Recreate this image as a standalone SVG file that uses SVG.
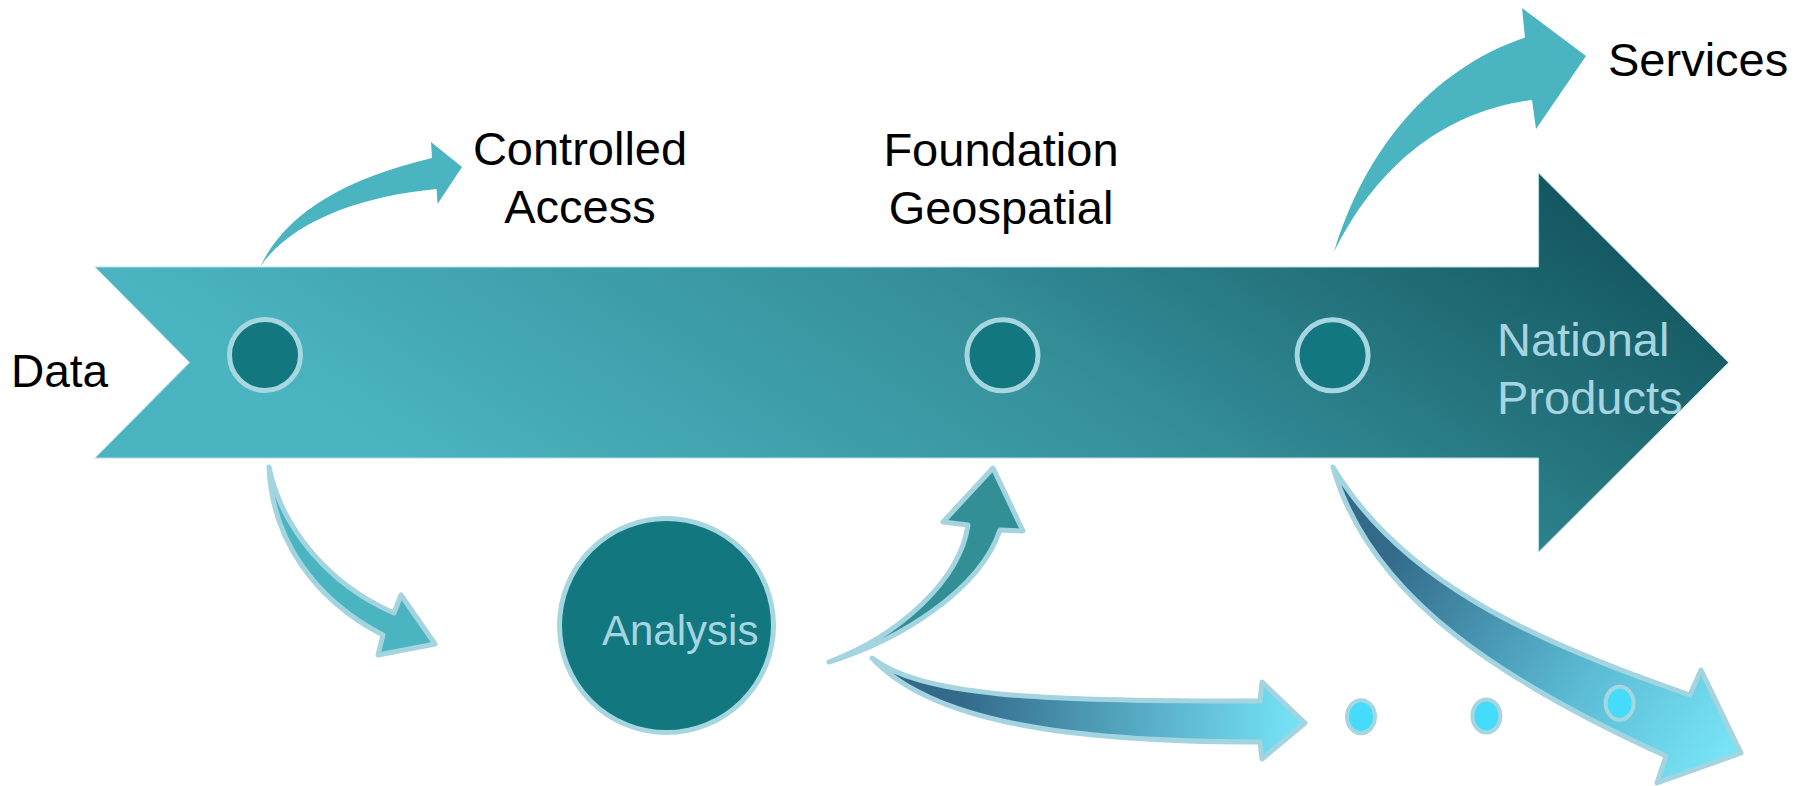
<svg xmlns="http://www.w3.org/2000/svg" width="1810" height="786" viewBox="0 0 1810 786">
  <style>
    .lbl { font-family: "Liberation Sans", Arial, sans-serif; font-size: 47px; fill: #000; }
    .lt { fill: #a5d5e0; }
    .dot { fill: #13777f; stroke: #a6d6e0; stroke-width: 5; }
    .cdot { fill: #45dcfc; stroke: #a6d6e0; stroke-width: 4; }
    .sarrow { stroke: #a3d4df; stroke-width: 5; stroke-linejoin: round; }
  </style>
  <defs>
    <linearGradient id="gMain" gradientUnits="userSpaceOnUse" x1="400" y1="458" x2="852" y2="-256">
      <stop offset="0" stop-color="#4bb4c1"/>
      <stop offset="0.5" stop-color="#35909a"/>
      <stop offset="1" stop-color="#145760"/>
    </linearGradient>
    <linearGradient id="gBottom" gradientUnits="userSpaceOnUse" x1="960" y1="700" x2="1300" y2="720">
      <stop offset="0" stop-color="#336a8a"/>
      <stop offset="1" stop-color="#76e4f6"/>
    </linearGradient>
    <linearGradient id="gBig" gradientUnits="userSpaceOnUse" x1="1400" y1="540" x2="1720" y2="760">
      <stop offset="0" stop-color="#336a8a"/>
      <stop offset="0.6" stop-color="#5bbcd4"/>
      <stop offset="1" stop-color="#78e3f5"/>
    </linearGradient>
  </defs>

  <g id="main-arrow">
    <path d="M95,267 L1538.6,267 L1538.6,173 L1728.6,362.5 L1538.6,552 L1538.6,458 L95,458 L189.7,362.5 Z" fill="url(#gMain)" stroke="#b5dde5" stroke-width="1"/>
  </g>

  <g id="connectors">
    <path id="to-controlled" d="M260,267 C285,215 340,180 432,158 L431,142 L462,167 L437.5,204 L436.6,189 C360,196 290,222 260,267 Z" fill="#4bb4c1"/>
    <path id="to-services" d="M1334,252 C1365,150 1430,70 1525,37.5 L1522,8 L1586,56 L1536,129 L1532,100 C1440,112 1375,170 1334,252 Z" fill="#4bb4c1"/>
    <path id="to-analysis" class="sarrow" d="M269,467 C272,540 315,600 383,635 L378,655 L435,644 L401,595 L394,613 C330,585 282,530 269,467 Z" fill="#4bb4c1"/>
    <path id="to-foundation" class="sarrow" d="M829,662 C900,640 980,590 1000,530 L1023,531 L993,468 L943,522 L968,525 C960,580 900,635 829,662 Z" fill="#338f96"/>
    <path id="to-dots" class="sarrow" d="M872,658 C920,695 1030,702 1260,701 L1262,682 L1305,723 L1262,759 L1260,742 C1060,742 930,720 872,658 Z" fill="url(#gBottom)"/>
    <path id="to-beyond" class="sarrow" d="M1333,467 C1400,580 1530,640 1690,695 L1701,670 L1741,753 L1657,783 L1666,756 C1510,685 1370,600 1333,467 Z" fill="url(#gBig)"/>
  </g>

  <g id="data">
    <text class="lbl" x="11" y="387" style="font-size:46px">Data</text>
  </g>
  <g id="node-data">
    <circle class="dot" cx="265" cy="355" r="35.5"/>
  </g>
  <g id="node-foundation">
    <circle class="dot" cx="1002.5" cy="355.3" r="35.5"/>
  </g>
  <g id="node-national">
    <circle class="dot" cx="1332.6" cy="355.3" r="35.5"/>
  </g>
  <g id="controlled-access">
    <text class="lbl" text-anchor="middle" x="580" y="165">Controlled</text>
    <text class="lbl" text-anchor="middle" x="580" y="223">Access</text>
  </g>
  <g id="foundation-geospatial">
    <text class="lbl" text-anchor="middle" x="1001" y="166">Foundation</text>
    <text class="lbl" text-anchor="middle" x="1001" y="224">Geospatial</text>
  </g>
  <g id="services">
    <text class="lbl" x="1608" y="76">Services</text>
  </g>
  <g id="national-products">
    <text class="lbl lt" x="1497" y="356">National</text>
    <text class="lbl lt" x="1497" y="414">Products</text>
  </g>
  <g id="analysis">
    <circle cx="666.5" cy="625.5" r="107" fill="#13777f" stroke="#a6d6e0" stroke-width="5"/>
    <text class="lbl lt" x="602" y="645" style="font-size:42px">Analysis</text>
  </g>
  <g id="dots">
    <ellipse class="cdot" cx="1361" cy="716.7" rx="14" ry="16.5"/>
    <ellipse class="cdot" cx="1486.4" cy="716" rx="14" ry="16.5"/>
    <ellipse class="cdot" cx="1619.6" cy="703.3" rx="14" ry="16.5"/>
  </g>
</svg>
